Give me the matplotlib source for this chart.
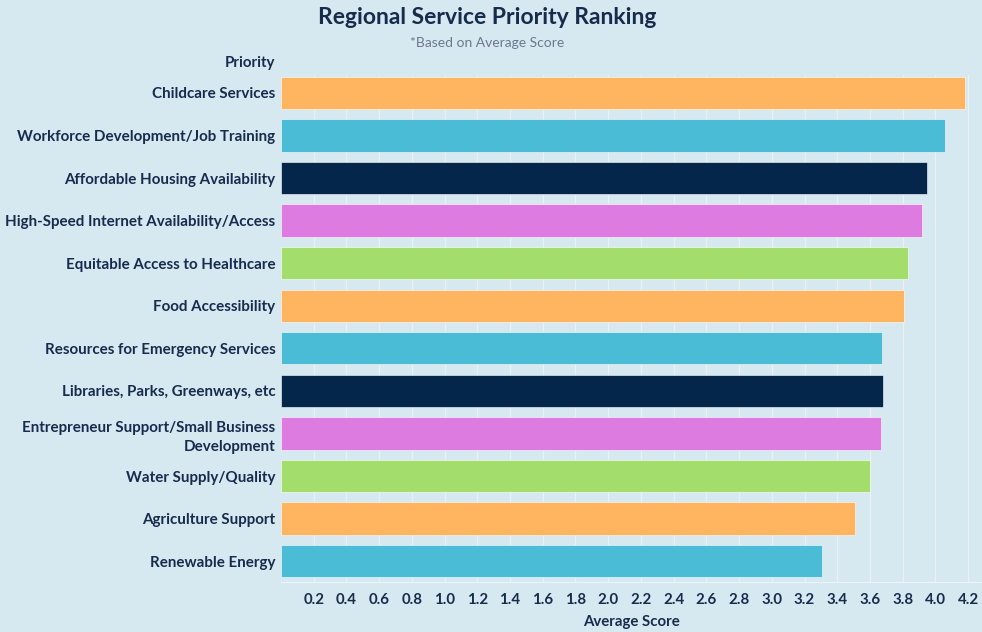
import matplotlib
matplotlib.use('Agg')
import matplotlib.pyplot as plt

categories = ['Childcare Services', 'Workforce Development/Job Training',
              'Affordable Housing Availability', 'High-Speed Internet Availability/Access',
              'Equitable Access to Healthcare', 'Food Accessibility',
              'Resources for Emergency Services', 'Libraries, Parks, Greenways, etc',
              'Entrepreneur Support/Small Business\nDevelopment', 'Water Supply/Quality',
              'Agriculture Support', 'Renewable Energy']
scores = [4.18, 4.06, 3.95, 3.92, 3.83, 3.81, 3.675, 3.68, 3.67, 3.60, 3.51, 3.31]
ticks = [0.2, 0.4, 0.6, 0.8, 1.0, 1.2, 1.4, 1.6, 1.8, 2.0, 2.2,
         2.4, 2.6, 2.8, 3.0, 3.2, 3.4, 3.6, 3.8, 4.0, 4.2]

palette = ['#FFB45F', '#4ABCD6', '#04264A', '#DE7BE1', '#A3DE6C']
colors = [palette[i % 5] for i in range(len(categories))]

bg = '#D6E8F0'
ink = '#172B4D'
plt.rcParams['font.family'] = ['Lato', 'DejaVu Sans']

fig = plt.figure(figsize=(9.82, 6.32), dpi=100, facecolor=bg)
ax = fig.add_axes([281 / 982, 50 / 632, 1 - 281 / 982, 507 / 632])
ax.set_facecolor(bg)

y = list(range(len(categories)))
ax.barh(y, scores, height=0.76, color=colors, edgecolor='white', linewidth=0.4, zorder=3)

ax.set_xlim(0, 4.285)
ax.set_ylim(11.49, -0.42)
ax.set_xticks(ticks)
ax.set_xticklabels([f'{t:.1f}' for t in ticks], fontsize=10.8, fontweight='bold', color=ink)
ax.set_yticks(y)
ax.set_yticklabels(categories, fontsize=10.9, fontweight='bold', color=ink,
                   linespacing=1.5)
ax.tick_params(axis='y', length=0, pad=4)
ax.tick_params(axis='x', length=0, pad=8)
ax.grid(axis='x', color='#E8F1F5', linewidth=1, zorder=0)
for s in ['top', 'right', 'left']:
    ax.spines[s].set_visible(False)
ax.spines['bottom'].set_color('#EEF5F8')

ax.set_xlabel('Average Score', fontsize=10.8, fontweight='bold', color=ink, labelpad=6)

fig.text(487 / 982, 1 - 18 / 632, 'Regional Service Priority Ranking', ha='center', va='center',
         fontsize=16.5, fontweight='bold', color=ink)
fig.text(487 / 982, 1 - 43 / 632, '*Based on Average Score', ha='center', va='center',
         fontsize=10, color='#6A7A8C')
fig.text(250 / 982, 1 - 63 / 632, 'Priority', ha='center', va='center',
         fontsize=10.8, fontweight='bold', color=ink)

fig.savefig('out.png', dpi=100, facecolor=bg)
